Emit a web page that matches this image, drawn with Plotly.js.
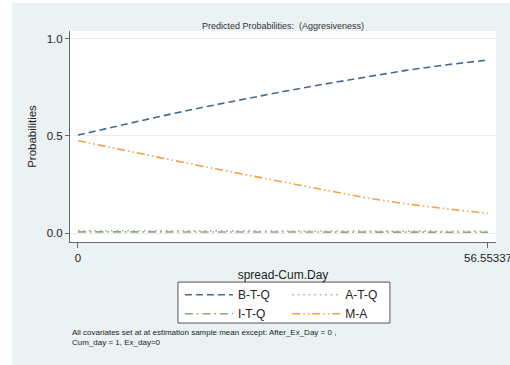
<!DOCTYPE html>
<html>
<head>
<meta charset="utf-8">
<script src="https://cdn.plot.ly/plotly-3.0.1.min.js"></script>
<style>
  html, body { margin: 0; padding: 0; background: #ffffff; }
  #chart { position: absolute; left: 12px; top: 3px; width: 498px; height: 362px; }
</style>
</head>
<body>
<div id="chart"></div>
<script>
// spread-Cum.Day grid
const cumDay = [0, 5.655337, 11.310674, 16.966011, 22.621348, 28.276685,
                33.932022, 39.587359, 45.242696, 50.898033, 56.55337];

// predicted probabilities for each outcome
const btq = [0.504, 0.553, 0.600, 0.645, 0.688, 0.728, 0.766, 0.803, 0.837, 0.866, 0.890];
const atq = [0.012, 0.012, 0.011, 0.011, 0.011, 0.010, 0.010, 0.010, 0.009, 0.009, 0.009];
const itq = [0.006, 0.006, 0.006, 0.005, 0.005, 0.005, 0.005, 0.005, 0.004, 0.004, 0.004];
const ma  = [0.475, 0.430, 0.388, 0.345, 0.303, 0.262, 0.222, 0.182, 0.150, 0.124, 0.101];

const xTickVals = [0, 56.55337];
const xTickText = ['0', '56.55337'];
const yTickVals = [0, 0.5, 1];
const yTickText = ['0.0', '0.5', '1.0'];

const lw = 1.6;
const traces = [
  { name: 'B-T-Q', x: cumDay, y: btq, mode: 'lines', legend: 'legend',
    line: { color: '#45698f', width: lw, dash: '7px,4px' } },
  { name: 'I-T-Q', x: cumDay, y: itq, mode: 'lines', legend: 'legend',
    line: { color: '#8fa874', width: lw, dash: '8px,4px,1.5px,4px' } },
  { name: 'A-T-Q', x: cumDay, y: atq, mode: 'lines', legend: 'legend2',
    line: { color: '#d3939b', width: lw, dash: '1.5px,4px' } },
  { name: 'M-A', x: cumDay, y: ma, mode: 'lines', legend: 'legend2',
    line: { color: '#f0a14a', width: lw, dash: '8px,3px,1.5px,3px,1.5px,3px' } }
];

const fontFam = 'Liberation Sans, Arial, sans-serif';
const legendCommon = {
  orientation: 'v', xanchor: 'left', yanchor: 'top',
  bgcolor: 'rgba(0,0,0,0)', borderwidth: 0,
  font: { family: fontFam, size: 12, color: '#222' },
  itemwidth: 48, tracegroupgap: 0
};

const layout = {
  width: 498, height: 362,
  paper_bgcolor: '#eaf2f3',
  plot_bgcolor: '#ffffff',
  margin: { l: 58, r: 14, t: 28, b: 123 },
  font: { family: fontFam, color: '#222' },
  title: {
    text: 'Predicted Probabilities:  (Aggresiveness)',
    font: { family: fontFam, size: 9, color: '#333' },
    xref: 'paper', x: 0.5, xanchor: 'center',
    yref: 'container', y: 0.938, yanchor: 'middle'
  },
  xaxis: {
    range: [-1.1, 57.66],
    tickmode: 'array', tickvals: xTickVals, ticktext: xTickText,
    ticklabeloverflow: 'allow',
    ticks: 'outside', ticklen: 5, tickcolor: '#666', tickwidth: 1,
    showline: true, linecolor: '#666', linewidth: 1,
    showgrid: false, zeroline: false,
    tickfont: { family: fontFam, size: 11.5, color: '#222' },
    title: { text: 'spread-Cum.Day', standoff: 7,
             font: { family: fontFam, size: 12, color: '#222' } }
  },
  yaxis: {
    range: [-0.0463, 1.0396],
    tickmode: 'array', tickvals: yTickVals, ticktext: yTickText,
    ticks: 'outside', ticklen: 4, tickcolor: '#666', tickwidth: 1,
    showline: true, linecolor: '#666', linewidth: 1,
    showgrid: true, gridcolor: '#e6eff1', gridwidth: 1,
    zeroline: false,
    tickfont: { family: fontFam, size: 11.5, color: '#222' },
    title: { text: 'Probabilities', standoff: 7,
             font: { family: fontFam, size: 11.5, color: '#222' } }
  },
  legend: Object.assign({}, legendCommon, { x: 0.258, y: -0.181 }),
  legend2: Object.assign({}, legendCommon, { x: 0.51, y: -0.181 }),
  shapes: [
    { type: 'rect', xref: 'paper', yref: 'paper',
      x0: 0.2535, x1: 0.751, y0: -0.384, y1: -0.19,
      fillcolor: '#ffffff', line: { color: '#555', width: 1 }, layer: 'above' }
  ],
  annotations: [
    { xref: 'paper', yref: 'paper', x: 0.0, y: -0.40,
      xanchor: 'left', yanchor: 'top', align: 'left', showarrow: false,
      text: 'All covariates set at at estimation sample mean except: After_Ex_Day = 0 ,<br>Cum_day = 1, Ex_day=0',
      font: { family: fontFam, size: 8, color: '#222' } }
  ]
};

Plotly.newPlot('chart', traces, layout, { displayModeBar: false, staticPlot: true });
</script>
</body>
</html>
